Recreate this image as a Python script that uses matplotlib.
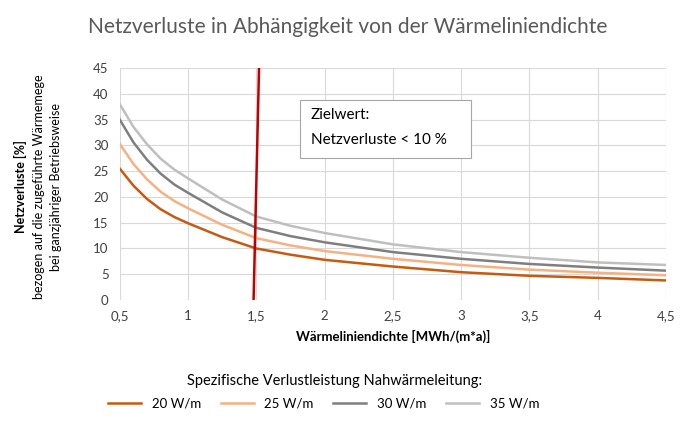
import matplotlib.pyplot as plt
from matplotlib.patches import Rectangle

plt.rcParams["font.family"] = "Lato"

x = [0.5, 0.6, 0.7, 0.8, 0.9, 1.0, 1.25, 1.5, 1.75, 2.0, 2.5, 3.0, 3.5, 4.0, 4.5]
s20 = [25.5, 22.2, 19.6, 17.6, 16.1, 14.9, 12.2, 10.0, 8.8, 7.8, 6.5, 5.4, 4.7, 4.3, 3.8]
s25 = [30.3, 26.4, 23.4, 21.0, 19.2, 17.8, 14.6, 12.0, 10.6, 9.5, 8.0, 6.8, 5.9, 5.3, 4.8]
s30 = [35.0, 30.6, 27.2, 24.5, 22.4, 20.8, 17.0, 14.0, 12.4, 11.2, 9.3, 8.0, 7.0, 6.3, 5.7]
s35 = [38.0, 33.6, 30.2, 27.4, 25.3, 23.6, 19.5, 16.2, 14.4, 13.0, 10.8, 9.3, 8.2, 7.3, 6.8]
names = ["20 W/m", "25 W/m", "30 W/m", "35 W/m"]
colors = ["#C55A11", "#F4B183", "#7F7F7F", "#BFBFBF"]
xticks = [0.5, 1, 1.5, 2, 2.5, 3, 3.5, 4, 4.5]
xlabels = ["0,5", "1", "1,5", "2", "2,5", "3", "3,5", "4", "4,5"]
target_x = [1.48, 1.52]
target_y = [0, 45]

fig = plt.figure(figsize=(6.96, 4.25), dpi=100)
ax = fig.add_axes([0.172, 0.294, 0.785, 0.546])
for s, n, c in zip([s20, s25, s30, s35], names, colors):
    ax.plot(x, s, color=c, lw=1.8, label=n)
ax.plot(target_x, target_y, color="#C00000", lw=1.8)
ax.set_xlim(0.5, 4.5)
ax.set_ylim(0, 45)
ax.set_yticks(range(0, 46, 5))
ax.set_xticks(xticks)
ax.set_xticklabels(xlabels)
ax.grid(axis="both", color="#D9D9D9", lw=0.8)
ax.set_axisbelow(True)
for sp in ax.spines.values():
    sp.set_visible(False)
ax.tick_params(length=0, labelsize=9.5, colors="#404040")
ax.tick_params(axis="y", pad=8)
ax.tick_params(axis="x", pad=7)
ax.set_xlabel("Wärmeliniendichte [MWh/(m*a)]", fontsize=9.5, fontweight="bold", labelpad=6)
fig.text(0.03, 0.56, "Netzverluste [%]", rotation=90, ha="center", va="center", fontsize=9, fontweight="bold")
fig.text(0.056, 0.56, "bezogen auf die zugeführte Wärmemege", rotation=90, ha="center", va="center", fontsize=9)
fig.text(0.08, 0.56, "bei ganzjähriger Betriebsweise", rotation=90, ha="center", va="center", fontsize=9)
ax.add_patch(Rectangle((1.82, 27.5), 1.25, 11.3, facecolor="white", edgecolor="#A6A6A6", lw=0.8, zorder=5))
ax.text(1.9, 35.8, "Zielwert:", fontsize=11, va="center", zorder=6)
ax.text(1.9, 31.0, "Netzverluste < 10 %", fontsize=11, va="center", zorder=6)
fig.suptitle("Netzverluste in Abhängigkeit von der Wärmeliniendichte", y=0.96, fontsize=15, color="#595959")
fig.text(0.48, 0.095, "Spezifische Verlustleistung Nahwärmeleitung:", ha="center", fontsize=10.5)
fig.legend(loc="center", bbox_to_anchor=(0.465, 0.05), ncol=4, frameon=False, fontsize=9.5,
           handlelength=2.5, columnspacing=1.5)
fig.savefig("out.png", dpi=100)
